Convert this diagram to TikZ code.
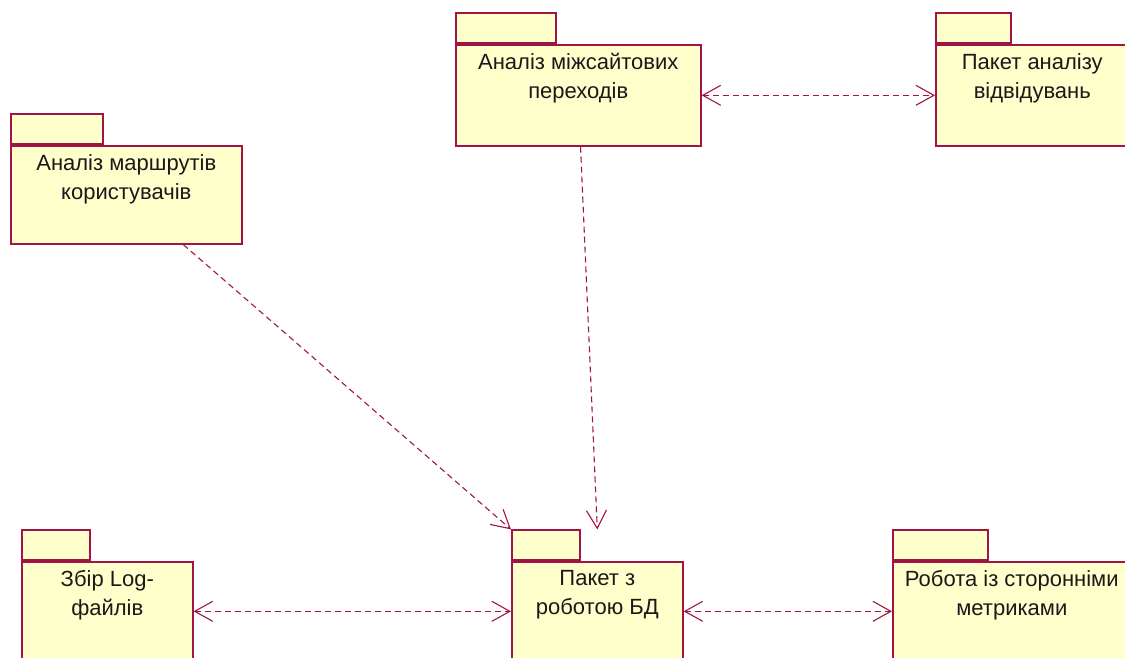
\documentclass[tikz,border=0pt]{standalone}
\usepackage{fontspec}
\setmainfont{Liberation Sans}
\usetikzlibrary{arrows.meta,calc,positioning}
\definecolor{roseline}{RGB}{160,20,70}
\definecolor{rosefill}{RGB}{255,255,204}
\tikzstyle{body} = [rectangle, draw=roseline, fill=rosefill, line width=1.6pt, inner sep=0pt, anchor=north west]
\tikzstyle{tab} = [rectangle, draw=roseline, fill=rosefill, line width=1.6pt, inner sep=0pt, anchor=south west, minimum height=30pt]
\tikzstyle{caption} = [font=\fontsize{22}{29}\selectfont, align=center, anchor=north, inner sep=0pt, text=black!90]
\tikzstyle{dep} = [draw=roseline, line width=1.1pt, dash pattern=on 6pt off 4pt]

\begin{document}
\begin{tikzpicture}[x=1pt,y=-1pt,>={Straight Barb[length=18pt,width=20pt]}]

        \clip (0,0) rectangle (1125,657);

        % packages: name / left / top / width / height / tab width / caption
        \foreach \name/\x/\y/\w/\h/\tw/\txt in {
            CrossSite/455/44/245/101/100/{Аналіз міжсайтових\\переходів},
            Visits/935/44/193/101/75/{Пакет аналізу\\відвідувань},
            Routes/10/145/231/98/92/{Аналіз маршрутів\\користувачів},
            LogFiles/21/561/171/99/68/{Збір Log-\\файлів},
            Database/511/561/171/99/68/{Пакет з\\роботою БД},
            Metrics/892/561/238/99/95/{Робота із сторонніми\\метриками}}
        {
            \node[body, minimum width=\w pt, minimum height=\h pt] (\name) at (\x,\y) {};
            \node[tab, minimum width=\tw pt] (\name-tab) at (\name.north west) {};
            \node[caption] (\name-text) at ($(\name.north)+(0,9)$) {\txt};
        }

        \draw[dep,<->] (CrossSite) -- (Visits);
        \draw[dep,->] (Routes) -- (Database-tab.north west);
        \draw[dep,->] (CrossSite) -- (Database-tab.north -| Database.north);
        \draw[dep,<->] (LogFiles) -- (Database);
        \draw[dep,<->] (Database) -- (Metrics);

\end{tikzpicture}
\end{document}
